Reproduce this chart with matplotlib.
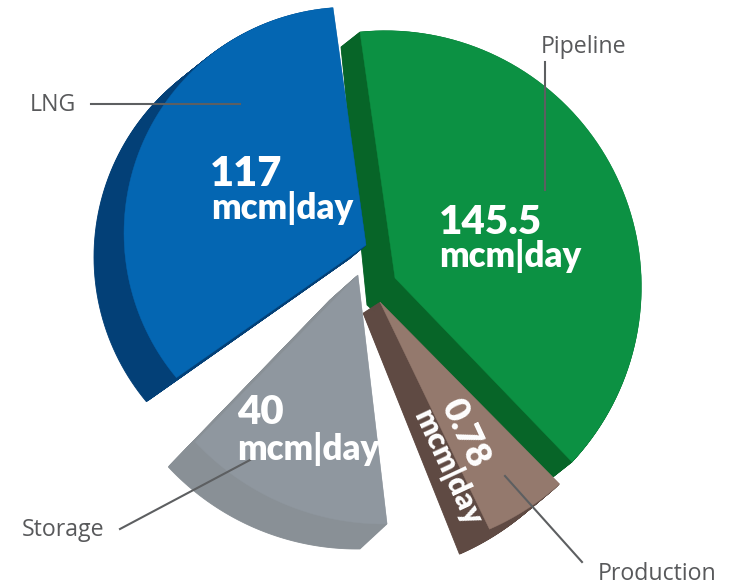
import matplotlib
matplotlib.use('Agg')
import matplotlib.pyplot as plt
import numpy as np

# supply sources, mcm per day
names = ['Pipeline', 'Production', 'Storage', 'LNG']
flows = ['145.5', '0.78', '40', '117']
unit = 'mcm|day'

# how the artwork draws each slice (the slices are not to scale in the original)
start_angle = [-43.2, -66.4, 223.0, 94.3]
sweep_angle = [138.9, 18.4, 47.7, 125.5]
radius = [256, 261, 258, 226]
arc_center = [(385.4, 286.7), (385, 290), (384, 266), (350, 233)]
tip = [(395, 278), (380, 302), (358, 275), (366, 245)]
tip_drop = [(-28, 27), (-17, 11), (-28, 25), (-17, 14)]
arc_drop = [(-19, 15), (-30, 25), (-27, 25), (-30, 24)]
top_colors = ['#0c9143', '#94796d', '#8f979f', '#0466b2']
side_colors = ['#076528', '#5f4a43', '#899096', '#034077']

label_pos = [(584, 47), (657, 574), (63, 530), (53, 105)]
leaders = [((545, 545), (62, 190)), ((505, 582), (476, 562)),
           ((120, 250), (529, 460)), ((91, 240), (104, 104))]
value_pos = [(439, 222), (465, 433), (237, 413), (210, 174)]
unit_pos = [(439, 256), (448, 467), (237, 449), (211, 208)]
value_size = [29, 26, 29, 30]
unit_size = [25, 22, 25, 25]
text_rot = [0, -65, 0, 0]

fig = plt.figure(figsize=(7.39, 5.86), dpi=100)
ax = fig.add_axes([0, 0, 1, 1])
ax.set_xlim(0, 739)
ax.set_ylim(586, 0)
ax.axis('off')


def outline(i, t=0.0):
    a = np.radians(np.linspace(start_angle[i], start_angle[i] + sweep_angle[i], 80))
    cx = arc_center[i][0] + t * arc_drop[i][0]
    cy = arc_center[i][1] + t * arc_drop[i][1]
    x = cx + radius[i] * np.cos(a)
    y = cy - radius[i] * np.sin(a)
    px = tip[i][0] + t * tip_drop[i][0]
    py = tip[i][1] + t * tip_drop[i][1]
    return np.r_[px, x], np.r_[py, y]


for i in range(len(names)):
    for t in np.linspace(1, 0.02, 40):
        x, y = outline(i, t)
        ax.fill(x, y, color=side_colors[i], lw=0.6, zorder=2 + i)
    x, y = outline(i)
    ax.fill(x, y, color=top_colors[i], lw=0.3, zorder=2 + i)

for i in range(len(names)):
    ax.plot(leaders[i][0], leaders[i][1], color='#5d5f61', lw=1.5, zorder=10)
    ax.text(label_pos[i][0], label_pos[i][1], names[i], family='Open Sans', fontsize=16.7,
            color='#58595b', ha='center', va='center', zorder=11)
    ha = 'center' if text_rot[i] else 'left'
    ax.text(value_pos[i][0], value_pos[i][1], flows[i], family='Lato', weight='heavy',
            fontsize=value_size[i], color='white', ha=ha, va='center',
            rotation=text_rot[i], rotation_mode='anchor', zorder=12)
    ax.text(unit_pos[i][0], unit_pos[i][1], unit, family='Lato', weight='heavy',
            fontsize=unit_size[i], color='white', ha=ha, va='center',
            rotation=text_rot[i], rotation_mode='anchor', zorder=12)

fig.savefig('out.png', dpi=100)
